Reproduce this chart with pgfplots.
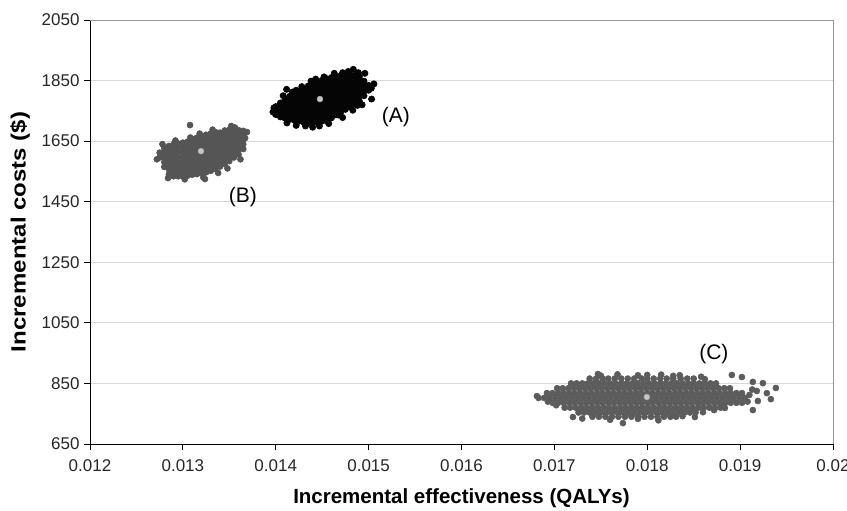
\documentclass[border=0pt]{standalone}
\usepackage{fontspec}
\setmainfont{Liberation Sans}
\usepackage{graphicx}
\usepackage{pgfplots}
\pgfplotsset{compat=1.18}
\definecolor{cA}{RGB}{5,5,5}
\definecolor{cB}{RGB}{85,85,85}
\definecolor{cC}{RGB}{92,92,92}
\definecolor{gridc}{RGB}{215,215,215}
\definecolor{bordc}{RGB}{150,150,150}
\begin{document}
\begin{tikzpicture}
\path[use as bounding box] (-90pt,-67pt) rectangle (757pt,444pt);
\begin{axis}[
  scale only axis, width=743pt, height=424pt,
  xmin=0.012, xmax=0.02, ymin=650, ymax=2050,
  scaled x ticks=false, scaled y ticks=false,
  axis x line*=bottom, axis y line*=left,
  axis line style={black, line width=0.9pt},
  xtick={0.012,0.013,0.014,0.015,0.016,0.017,0.018,0.019,0.02},
  xticklabels={0.012,0.013,0.014,0.015,0.016,0.017,0.018,0.019,0.02},
  ytick={650,850,1050,1250,1450,1650,1850,2050},
  yticklabels={650,850,1050,1250,1450,1650,1850,2050},
  tick align=outside, major tick length=6pt,
  tick style={black, line width=0.8pt},
  ymajorgrids, grid style={gridc, line width=0.8pt},
  ticklabel style={font=\fontsize{17}{19}\selectfont, text=black!85},
  xticklabel style={yshift=-6pt},
  yticklabel style={xshift=-1pt},
  xlabel={\bfseries Incremental effectiveness (QALYs)},
  ylabel={\scalebox{1}[0.86]{\bfseries Incremental costs (\$)}},
  xlabel style={at={(axis description cs:0.5,-0.129)}, anchor=center, font=\fontsize{20.5}{22}\selectfont},
  ylabel style={at={(axis description cs:-0.0942,0.5)}, anchor=center, font=\fontsize{24}{26}\selectfont},
  clip=false,
]
\draw[bordc, line width=0.9pt] (rel axis cs:0,1) -- (rel axis cs:1,1) -- (rel axis cs:1,0);
% Cloud A
\addplot[only marks, mark=*, mark size=3.1pt, color=cA, mark options={line width=0.7pt}] coordinates {
(0.01400,1738)(0.01400,1752)(0.01400,1764)
(0.01405,1730)(0.01405,1746)(0.01405,1762)(0.01405,1776)
(0.01410,1726)(0.01410,1742)(0.01410,1758)(0.01410,1774)(0.01410,1788)
(0.01415,1722)(0.01415,1738)(0.01415,1754)(0.01415,1770)(0.01415,1786)(0.01415,1798)
(0.01420,1719)(0.01420,1735)(0.01420,1751)(0.01420,1767)(0.01420,1783)(0.01420,1799)(0.01420,1806)
(0.01425,1716)(0.01425,1732)(0.01425,1748)(0.01425,1764)(0.01425,1780)(0.01425,1796)(0.01425,1812)
(0.01430,1713)(0.01430,1729)(0.01430,1745)(0.01430,1761)(0.01430,1777)(0.01430,1793)(0.01430,1809)(0.01430,1822)
(0.01435,1709)(0.01435,1725)(0.01435,1741)(0.01435,1757)(0.01435,1773)(0.01435,1789)(0.01435,1805)(0.01435,1821)(0.01435,1832)
(0.01440,1710)(0.01440,1726)(0.01440,1742)(0.01440,1758)(0.01440,1774)(0.01440,1790)(0.01440,1806)(0.01440,1822)(0.01440,1838)
(0.01445,1712)(0.01445,1728)(0.01445,1744)(0.01445,1760)(0.01445,1776)(0.01445,1792)(0.01445,1808)(0.01445,1824)(0.01445,1840)(0.01445,1847)
(0.01450,1716)(0.01450,1732)(0.01450,1748)(0.01450,1764)(0.01450,1780)(0.01450,1796)(0.01450,1812)(0.01450,1828)(0.01450,1844)(0.01450,1851)
(0.01455,1720)(0.01455,1736)(0.01455,1752)(0.01455,1768)(0.01455,1784)(0.01455,1800)(0.01455,1816)(0.01455,1832)(0.01455,1848)(0.01455,1856)
(0.01460,1727)(0.01460,1743)(0.01460,1759)(0.01460,1775)(0.01460,1791)(0.01460,1807)(0.01460,1823)(0.01460,1839)(0.01460,1855)(0.01460,1860)
(0.01465,1737)(0.01465,1753)(0.01465,1769)(0.01465,1785)(0.01465,1801)(0.01465,1817)(0.01465,1833)(0.01465,1849)(0.01465,1863)
(0.01470,1746)(0.01470,1762)(0.01470,1778)(0.01470,1794)(0.01470,1810)(0.01470,1826)(0.01470,1842)(0.01470,1858)(0.01470,1866)
(0.01475,1755)(0.01475,1771)(0.01475,1787)(0.01475,1803)(0.01475,1819)(0.01475,1835)(0.01475,1851)(0.01475,1866)
(0.01480,1764)(0.01480,1780)(0.01480,1796)(0.01480,1812)(0.01480,1828)(0.01480,1844)(0.01480,1860)(0.01480,1869)
(0.01485,1773)(0.01485,1789)(0.01485,1805)(0.01485,1821)(0.01485,1837)(0.01485,1853)(0.01485,1866)
(0.01490,1782)(0.01490,1798)(0.01490,1814)(0.01490,1830)(0.01490,1846)(0.01490,1862)
(0.01495,1800)(0.01495,1816)(0.01495,1832)(0.01495,1848)
(0.01500,1818)(0.01500,1834)
(0.014117,1821)(0.014397,1696)(0.014835,1887)(0.01496,1874)(0.015057,1839)(0.015032,1789)
(0.01432,1700)(0.01468,1736)(0.01488,1768)(0.01418,1812)(0.01452,1862)(0.01503,1825)
(0.01408,1800)(0.01422,1818)(0.01428,1830)(0.01438,1848)(0.01443,1855)
(0.01412,1710)(0.01422,1702)(0.01447,1700)(0.01457,1708)(0.01472,1728)(0.01483,1752)(0.01493,1770)
(0.01463,1874)(0.01472,1876)(0.01478,1880)(0.01489,1876)(0.01397,1746)(0.01398,1760)
};
% Cloud B
\addplot[only marks, mark=*, mark size=3.0pt, color=cB, mark options={line width=0.6pt}] coordinates {
(0.01275,1596)(0.01275,1612)
(0.01280,1565)(0.01280,1581)(0.01280,1597)(0.01280,1613)(0.01280,1627)
(0.01285,1540)(0.01285,1556)(0.01285,1572)(0.01285,1588)(0.01285,1604)(0.01285,1620)(0.01285,1634)
(0.01290,1534)(0.01290,1550)(0.01290,1566)(0.01290,1582)(0.01290,1598)(0.01290,1614)(0.01290,1630)(0.01290,1640)
(0.01295,1534)(0.01295,1550)(0.01295,1566)(0.01295,1582)(0.01295,1598)(0.01295,1614)(0.01295,1630)(0.01295,1642)
(0.01300,1534)(0.01300,1550)(0.01300,1566)(0.01300,1582)(0.01300,1598)(0.01300,1614)(0.01300,1630)(0.01300,1645)
(0.01305,1536)(0.01305,1552)(0.01305,1568)(0.01305,1584)(0.01305,1600)(0.01305,1616)(0.01305,1632)(0.01305,1648)
(0.01310,1539)(0.01310,1555)(0.01310,1571)(0.01310,1587)(0.01310,1603)(0.01310,1619)(0.01310,1635)(0.01310,1651)(0.01310,1657)
(0.01315,1541)(0.01315,1557)(0.01315,1573)(0.01315,1589)(0.01315,1605)(0.01315,1621)(0.01315,1637)(0.01315,1653)(0.01315,1661)
(0.01320,1544)(0.01320,1560)(0.01320,1576)(0.01320,1592)(0.01320,1608)(0.01320,1624)(0.01320,1640)(0.01320,1656)(0.01320,1666)
(0.01325,1547)(0.01325,1563)(0.01325,1579)(0.01325,1595)(0.01325,1611)(0.01325,1627)(0.01325,1643)(0.01325,1659)(0.01325,1671)
(0.01330,1552)(0.01330,1568)(0.01330,1584)(0.01330,1600)(0.01330,1616)(0.01330,1632)(0.01330,1648)(0.01330,1664)(0.01330,1675)
(0.01335,1558)(0.01335,1574)(0.01335,1590)(0.01335,1606)(0.01335,1622)(0.01335,1638)(0.01335,1654)(0.01335,1670)(0.01335,1680)
(0.01340,1566)(0.01340,1582)(0.01340,1598)(0.01340,1614)(0.01340,1630)(0.01340,1646)(0.01340,1662)(0.01340,1678)
(0.01345,1574)(0.01345,1590)(0.01345,1606)(0.01345,1622)(0.01345,1638)(0.01345,1654)(0.01345,1670)(0.01345,1685)
(0.01350,1584)(0.01350,1600)(0.01350,1616)(0.01350,1632)(0.01350,1648)(0.01350,1664)(0.01350,1680)(0.01350,1688)
(0.01355,1596)(0.01355,1612)(0.01355,1628)(0.01355,1644)(0.01355,1660)(0.01355,1676)(0.01355,1689)
(0.01360,1606)(0.01360,1622)(0.01360,1638)(0.01360,1654)(0.01360,1670)(0.01360,1686)
(0.01365,1624)(0.01365,1640)(0.01365,1656)(0.01365,1672)(0.01365,1684)
(0.013077,1703)(0.013238,1525)(0.01369,1680)
(0.01272,1590)(0.01278,1640)(0.01284,1528)(0.01292,1652)(0.01302,1524)(0.01308,1662)(0.01318,1675)(0.01322,1530)
(0.01332,1688)(0.01338,1545)(0.01348,1560)(0.01356,1695)(0.01362,1590)(0.01367,1660)(0.01352,1700)
};
% Cloud C
\addplot[only marks, mark=*, mark size=3.0pt, color=cC, mark options={line width=0.6pt}] coordinates {
(0.01738,866)(0.01745,866)(0.01752,866)(0.01758,866)(0.01765,866)(0.01772,866)(0.01779,866)(0.01786,866)(0.01794,866)(0.01800,866)(0.01807,866)(0.01814,866)(0.01821,866)(0.01828,866)(0.01836,866)(0.01843,866)(0.01850,866)
(0.01718,850)(0.01724,850)(0.01730,850)(0.01736,850)(0.01742,850)(0.01748,850)(0.01754,850)(0.01760,850)(0.01766,850)(0.01772,850)(0.01778,850)(0.01784,850)(0.01790,850)(0.01796,850)(0.01802,850)(0.01808,850)(0.01814,850)(0.01820,850)(0.01826,850)(0.01832,850)(0.01838,850)(0.01844,850)(0.01850,850)(0.01856,850)(0.01862,850)(0.01868,850)(0.01874,850)
(0.01703,834)(0.01709,834)(0.01715,834)(0.01721,834)(0.01727,834)(0.01733,834)(0.01739,834)(0.01745,834)(0.01751,834)(0.01757,834)(0.01763,834)(0.01769,834)(0.01775,834)(0.01781,834)(0.01787,834)(0.01793,834)(0.01799,834)(0.01805,834)(0.01811,834)(0.01817,834)(0.01823,834)(0.01829,834)(0.01835,834)(0.01841,834)(0.01847,834)(0.01853,834)(0.01859,834)(0.01865,834)(0.01871,834)(0.01877,834)(0.01883,834)(0.01889,834)
(0.01692,818)(0.01698,818)(0.01704,818)(0.01710,818)(0.01716,818)(0.01722,818)(0.01728,818)(0.01734,818)(0.01740,818)(0.01746,818)(0.01752,818)(0.01758,818)(0.01764,818)(0.01770,818)(0.01776,818)(0.01782,818)(0.01788,818)(0.01794,818)(0.01800,818)(0.01806,818)(0.01812,818)(0.01818,818)(0.01824,818)(0.01830,818)(0.01836,818)(0.01842,818)(0.01848,818)(0.01854,818)(0.01860,818)(0.01866,818)(0.01872,818)(0.01878,818)(0.01884,818)(0.01890,818)(0.01896,818)(0.01902,818)
(0.01683,802)(0.01689,802)(0.01695,802)(0.01701,802)(0.01707,802)(0.01713,802)(0.01719,802)(0.01725,802)(0.01731,802)(0.01737,802)(0.01743,802)(0.01749,802)(0.01755,802)(0.01761,802)(0.01767,802)(0.01773,802)(0.01779,802)(0.01785,802)(0.01791,802)(0.01797,802)(0.01803,802)(0.01809,802)(0.01815,802)(0.01821,802)(0.01827,802)(0.01833,802)(0.01839,802)(0.01845,802)(0.01851,802)(0.01857,802)(0.01863,802)(0.01869,802)(0.01875,802)(0.01881,802)(0.01887,802)(0.01893,802)(0.01899,802)(0.01905,802)
(0.01698,786)(0.01704,786)(0.01710,786)(0.01716,786)(0.01722,786)(0.01728,786)(0.01734,786)(0.01740,786)(0.01746,786)(0.01752,786)(0.01758,786)(0.01764,786)(0.01770,786)(0.01776,786)(0.01782,786)(0.01788,786)(0.01794,786)(0.01800,786)(0.01806,786)(0.01812,786)(0.01818,786)(0.01824,786)(0.01830,786)(0.01836,786)(0.01842,786)(0.01848,786)(0.01854,786)(0.01860,786)(0.01866,786)(0.01872,786)(0.01878,786)(0.01884,786)(0.01890,786)(0.01896,786)(0.01902,786)
(0.01711,770)(0.01717,770)(0.01723,770)(0.01729,770)(0.01735,770)(0.01741,770)(0.01747,770)(0.01753,770)(0.01759,770)(0.01765,770)(0.01771,770)(0.01777,770)(0.01783,770)(0.01789,770)(0.01795,770)(0.01801,770)(0.01807,770)(0.01813,770)(0.01819,770)(0.01825,770)(0.01831,770)(0.01837,770)(0.01843,770)(0.01849,770)(0.01855,770)(0.01861,770)(0.01867,770)(0.01873,770)(0.01879,770)
(0.01726,754)(0.01732,754)(0.01738,754)(0.01744,754)(0.01750,754)(0.01756,754)(0.01762,754)(0.01768,754)(0.01774,754)(0.01780,754)(0.01786,754)(0.01792,754)(0.01798,754)(0.01804,754)(0.01810,754)(0.01816,754)(0.01822,754)(0.01828,754)(0.01834,754)(0.01840,754)(0.01846,754)(0.01852,754)
(0.01741,740)(0.01748,740)(0.01755,740)(0.01762,740)(0.01769,740)(0.01776,740)(0.01783,740)(0.01790,740)(0.01797,740)(0.01804,740)(0.01811,740)(0.01818,740)(0.01825,740)(0.01831,740)
(0.017738,719)(0.018513,739)(0.018911,878)(0.019019,871)(0.019137,855)(0.019245,851)(0.019180,825)(0.019288,818)(0.019385,835)(0.019191,792)(0.019331,798)(0.019137,762)(0.018836,769)(0.017469,881)(0.016812,808)(0.01720,739)(0.01835,877)(0.01800,878)
(0.01750,876)(0.01768,880)(0.01790,877)(0.01815,879)(0.01828,875)(0.01858,872)(0.01862,864)
(0.01730,734)(0.01760,730)(0.01790,733)(0.01812,728)(0.01838,742)(0.01860,755)(0.01872,762)(0.01882,775)(0.01702,778)(0.01693,790)
(0.01910,812)(0.01908,790)(0.01913,830)
};
% means
\addplot[only marks, mark=*, mark size=3pt, mark options={fill=gray!45, draw=gray!75}] coordinates {(0.014476,1789)(0.013195,1617)(0.017996,805)};
\node[font=\fontsize{21}{23}\selectfont] at (axis cs:0.015294,1730) {(A)};
\node[font=\fontsize{21}{23}\selectfont] at (axis cs:0.013647,1466) {(B)};
\node[font=\fontsize{21}{23}\selectfont] at (axis cs:0.018717,947) {(C)};
\end{axis}
\end{tikzpicture}
\end{document}
